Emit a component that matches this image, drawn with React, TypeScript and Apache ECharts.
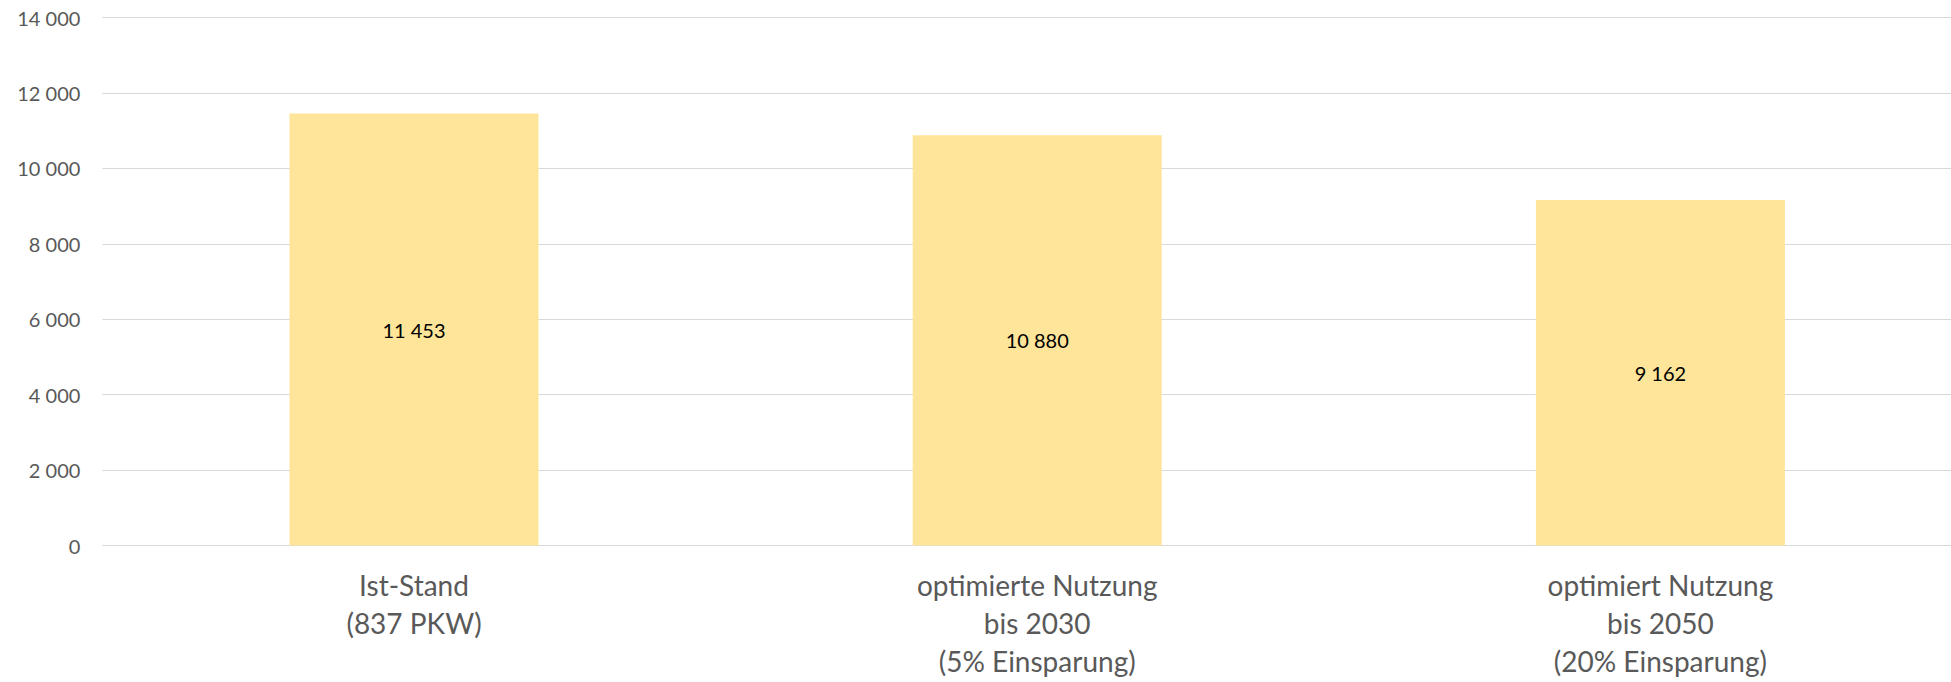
import React, { useEffect, useRef } from "react";
import * as echarts from "echarts";

const categories = [
  "Ist-Stand\n(837 PKW)",
  "optimierte Nutzung\nbis 2030\n(5% Einsparung)",
  "optimiert Nutzung\nbis 2050\n(20% Einsparung)",
];
const values = [11453, 10880, 9162];
const yTicks = { min: 0, max: 14000, interval: 2000 };

const fmt = (v: number) => {
  const s = String(Math.round(v));
  return s.replace(/\B(?=(\d{3})+(?!\d))/g, " ");
};

const CHART_W = 1980;

export default function App() {
  const ref = useRef<HTMLDivElement>(null);
  useEffect(() => {
    if (!ref.current) return;
    const chart = echarts.init(ref.current, undefined, { renderer: "svg" });
    chart.setOption({
      animation: false,
      grid: { left: 102.4, right: CHART_W - 1972, top: 17.5, bottom: 682 - 545.5 },
      xAxis: {
        type: "category",
        data: categories,
        axisTick: { show: false },
        axisLine: { lineStyle: { color: "#d9d9d9", width: 1 } },
        axisLabel: {
          color: "#595959",
          fontFamily: "Lato",
          fontSize: 28,
          lineHeight: 38,
          margin: 20,
          interval: 0,
        },
      },
      yAxis: {
        type: "value",
        min: yTicks.min,
        max: yTicks.max,
        interval: yTicks.interval,
        axisLine: { show: false },
        axisTick: { show: false },
        splitLine: { lineStyle: { color: "#d9d9d9", width: 1 } },
        axisLabel: {
          color: "#595959",
          fontFamily: "Lato",
          fontSize: 20,
          margin: 22,
          formatter: (v: number) => fmt(v),
        },
      },
      series: [
        {
          type: "bar",
          data: values,
          barWidth: 249,
          itemStyle: { color: "#FEE599" },
          label: {
            show: true,
            position: "inside",
            color: "#000000",
            fontFamily: "Lato",
            fontSize: 20,
            formatter: (p: any) => fmt(p.value),
          },
        },
      ],
    });
    return () => chart.dispose();
  }, []);
  return (
    <div
      style={{
        position: "absolute",
        left: 0,
        top: 0,
        width: 1951,
        height: 682,
        overflow: "hidden",
        background: "#fff",
      }}
    >
      <div ref={ref} style={{ width: CHART_W, height: 682 }} />
    </div>
  );
}
